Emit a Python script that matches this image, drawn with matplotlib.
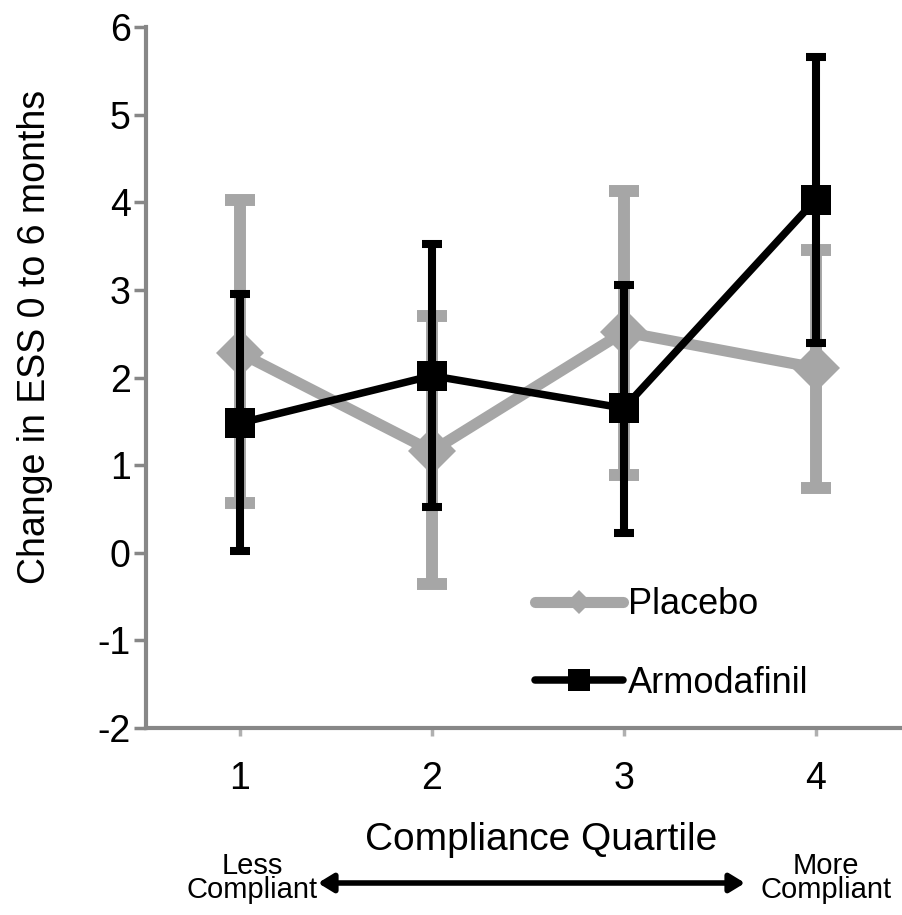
import matplotlib
matplotlib.use("Agg")
import matplotlib.pyplot as plt
from matplotlib.lines import Line2D

plt.rcParams['font.family'] = ['Liberation Sans', 'DejaVu Sans']

quartiles = [1, 2, 3, 4]
quartile_labels = ["1", "2", "3", "4"]

placebo_mean = [2.28, 1.16, 2.52, 2.11]
placebo_upper = [4.02, 2.70, 4.13, 3.46]
placebo_lower = [0.57, -0.36, 0.89, 0.74]

armod_mean = [1.48, 2.02, 1.65, 4.03]
armod_upper = [2.95, 3.52, 3.05, 5.66]
armod_lower = [0.02, 0.52, 0.23, 2.39]

y_ticks = [-2, -1, 0, 1, 2, 3, 4, 5, 6]

PLACEBO_GRAY = "#a6a6a6"
AXIS_GRAY = "#878787"

fig = plt.figure(figsize=(9.02, 9.15), dpi=100)
ax = fig.add_axes([146 / 902, 187 / 915, 758 / 902, 701 / 915])


def err(mean, lo, hi):
    return [[m - l for m, l in zip(mean, lo)], [h - m for m, h in zip(mean, hi)]]


# Placebo: error bars, then connecting line with diamond markers
ax.errorbar(quartiles, placebo_mean, yerr=err(placebo_mean, placebo_lower, placebo_upper),
            fmt="none", ecolor=PLACEBO_GRAY, elinewidth=8.6,
            capsize=10.5, capthick=8.6, zorder=2)
ax.plot(quartiles, placebo_mean, color=PLACEBO_GRAY, lw=8, marker="D",
        markersize=24, markeredgewidth=0, zorder=2.1)

# Armodafinil: error bars, then connecting line with square markers
ax.errorbar(quartiles, armod_mean, yerr=err(armod_mean, armod_lower, armod_upper),
            fmt="none", ecolor="black", elinewidth=5.8,
            capsize=7.5, capthick=5.8, zorder=3)
ax.plot(quartiles, armod_mean, color="black", lw=5.4, marker="s",
        markersize=22, markeredgewidth=0, zorder=3.1)

ax.set_xlim(0.51, 4.46)
ax.set_ylim(-2, 6)
ax.set_yticks(y_ticks)
ax.set_yticklabels([str(v) for v in y_ticks])
ax.set_xticks(quartiles)
ax.set_xticklabels(quartile_labels)

for side in ("top", "right"):
    ax.spines[side].set_visible(False)
for side in ("left", "bottom"):
    ax.spines[side].set_color(AXIS_GRAY)
    ax.spines[side].set_linewidth(3)

ax.tick_params(axis="y", direction="out", length=9, width=2.5, color=AXIS_GRAY,
               labelsize=27, pad=2)
ax.tick_params(axis="x", direction="out", length=6, width=2.5, color="#b0b0b0",
               labelsize=27, pad=18)

fig.text(35 / 902, 1 - 337 / 915, "Change in ESS 0 to 6 months", fontsize=27,
         rotation=90, ha="center", va="center")

handles = [
    Line2D([], [], color=PLACEBO_GRAY, lw=8, marker="D", markersize=12,
           markeredgewidth=0, solid_capstyle="round", label="Placebo"),
    Line2D([], [], color="black", lw=5.4, marker="s", markersize=16,
           markeredgewidth=0, solid_capstyle="round", label="Armodafinil"),
]
ax.legend(handles=handles, loc="center left", bbox_to_anchor=(0.494, 0.12),
          frameon=False, fontsize=26, handlelength=2.45, handletextpad=0.12,
          labelspacing=1.2, borderaxespad=0)

fig.text(541 / 902, 1 - 840 / 915, "Compliance Quartile", fontsize=28,
         ha="center", va="center")
fig.text(252 / 902, 1 - 878 / 915, "Less\nCompliant", fontsize=21,
         ha="center", va="center", linespacing=0.8)
fig.text(826 / 902, 1 - 878 / 915, "More\nCompliant", fontsize=21,
         ha="center", va="center", linespacing=0.8)
ax.annotate("", xy=(745 / 902, 1 - 883 / 915), xytext=(318 / 902, 1 - 883 / 915),
            xycoords="figure fraction", textcoords="figure fraction",
            arrowprops=dict(arrowstyle="<|-|>,head_length=0.9,head_width=0.55",
                            color="black", lw=4, shrinkA=0, shrinkB=0))

fig.savefig("out.png", dpi=100)
